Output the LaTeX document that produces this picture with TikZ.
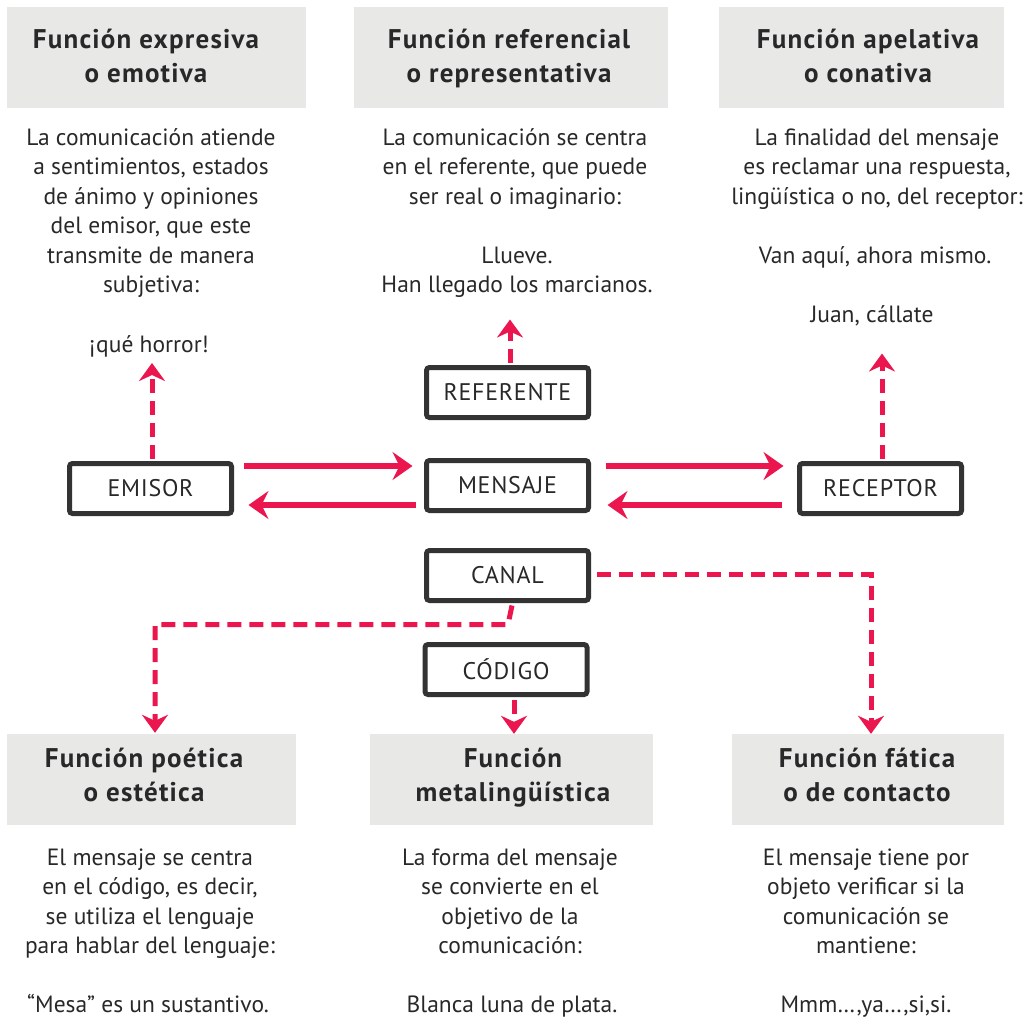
\documentclass[tikz,border=0pt]{standalone}
\usepackage{fontspec}
\setmainfont{PT Sans}
\newfontfamily\headfont[LetterSpace=4.5]{PT Sans}
\newfontfamily\labelfont[LetterSpace=3]{PT Sans}
\usetikzlibrary{arrows.meta,calc}
\definecolor{accent}{RGB}{236,22,79}
\definecolor{panel}{RGB}{232,232,231}
\definecolor{ink}{RGB}{40,40,40}
\definecolor{frame}{RGB}{51,51,51}

\begin{document}
\begin{tikzpicture}[x=1pt,y=-1pt,
  panelbox/.style={fill=panel, draw=none, inner sep=0pt},
  heading/.style={font=\headfont\bfseries\fontsize{27}{34}\selectfont, text=ink, align=center, anchor=base, inner sep=0pt},
  body/.style={font=\fontsize{23.5}{29.5}\selectfont, text=ink, align=center, anchor=base, inner sep=0pt},
  element/.style={draw=frame, line width=5pt, rounded corners=3pt, fill=white, minimum width=162pt, minimum height=50pt, inner sep=0pt, font=\labelfont\fontsize{24}{28}\selectfont, text=ink},
  flow/.style={draw=accent, line width=5.5pt, -{Stealth[length=20pt,width=28pt,inset=7pt]}},
  link/.style={draw=accent, line width=5pt, dash pattern=on 14pt off 8pt, -{Stealth[length=18pt,width=26pt,inset=6pt]}},
]
\useasboundingbox (0,0) rectangle (1024,1021);

% heading panels
\node[panelbox, minimum width=299pt, minimum height=101pt] (pExp) at (156.5,57.5) {};
\node[panelbox, minimum width=314pt, minimum height=101pt] (pRef) at (511,57.5) {};
\node[panelbox, minimum width=285pt, minimum height=101pt] (pApe) at (861.5,57.5) {};
\node[panelbox, minimum width=289pt, minimum height=91pt] (pPoe) at (151.5,779.5) {};
\node[panelbox, minimum width=283pt, minimum height=91pt] (pMeta) at (511.5,779.5) {};
\node[panelbox, minimum width=272pt, minimum height=91pt] (pFat) at (868,779.5) {};

% headings (anchored on the baseline of their last line)
\node[heading] (hExp) at (146,82) {Función expresiva\\o emotiva};
\node[heading] (hRef) at (509,82) {Función referencial\\o representativa};
\node[heading] (hApe) at (868,82) {Función apelativa\\o conativa};
\node[heading] (hPoe) at (144,801) {Función poética\\o estética};
\node[heading] (hMeta) at (513,801) {Función\\metalingüística};
\node[heading] (hFat) at (867,801) {Función fática\\o de contacto};

% descriptions and examples (anchored on the baseline of their last line)
\node[body] (dExp) at (151,292.5) {La comunicación atiende\\a sentimientos, estados\\de ánimo y opiniones\\del emisor, que este\\transmite de manera\\subjetiva:};
\node[body] (xExp) at (149,352) {¡qué horror!};
\node[body] (dRef) at (515,204) {La comunicación se centra\\en el referente, que puede\\ser real o imaginario:};
\node[body] (xRef) at (517,292.5) {Llueve.\\Han llegado los marcianos.};
\node[body] (dApe) at (877,204) {La finalidad del mensaje\\es reclamar una respuesta,\\lingüística o no, del receptor:};
\node[body] (xApe1) at (875,263) {Van aquí, ahora mismo.};
\node[body] (xApe2) at (872,322) {Juan, cállate};
\node[body] (dPoe) at (150,953.5) {El mensaje se centra\\en el código, es decir,\\se utiliza el lenguaje\\para hablar del lenguaje:};
\node[body] (xPoe) at (148,1012.5) {“Mesa” es un sustantivo.};
\node[body] (dMeta) at (510,953.5) {La forma del mensaje\\se convierte en el\\objetivo de la\\comunicación:};
\node[body] (xMeta) at (512,1012.5) {Blanca luna de plata.};
\node[body] (dFat) at (866,953.5) {El mensaje tiene por\\objeto verificar si la\\comunicación se\\mantiene:};
\node[body] (xFat) at (866,1012.5) {Mmm…,ya…,si,si.};

% elements of communication
\node[element] (emisor) at (150.5,488.5) {EMISOR};
\node[element] (mensaje) at (507.5,485.5) {MENSAJE};
\node[element] (referente) at (507.5,392.5) {REFERENTE};
\node[element] (receptor) at (880.5,488.5) {RECEPTOR};
\node[element] (canal) at (507.5,575.5) {CANAL};
\node[element] (codigo) at (506,669.5) {CÓDIGO};

% message flow
\draw[flow] ($(emisor.east)+(10,-22.5)$) -- ($(mensaje.west)+(-11.5,-19.5)$);
\draw[flow] ($(mensaje.west)+(-8,19.5)$) -- ($(emisor.east)+(14.5,16.5)$);
\draw[flow] ($(mensaje.east)+(14.5,-19.5)$) -- ($(receptor.west)+(-13.5,-22.5)$);
\draw[flow] ($(receptor.west)+(-15.5,16.5)$) -- ($(mensaje.east)+(16.5,19.5)$);

% links to the functions
\draw[link] ($(emisor.north)+(1.5,-2.5)$) -- ($(emisor.north)+(1.5,-98)$);
\draw[link] ($(referente.north)+(2.5,-2.5)$) -- ($(referente.north)+(2.5,-45.5)$);
\draw[link] ($(receptor.north)+(1.5,-2.5)$) -- ($(receptor.north)+(1.5,-107.5)$);
\coordinate (canalA) at ($(canal.south)+(4.5,2.5)$);
\coordinate (canalB) at ($(canal.south)+(0.5,21.5)$);
\draw[link] (canalA) -- (canalB) -| ($(pPoe.north)+(3.5,-1)$);
\draw[link] ($(canal.east)+(6,-1.5)$) -| ($(pFat.north)+(3,0)$);
\coordinate (codigoA) at ($(codigo.south)+(8,2.5)$);
\draw[link] (codigoA) -- (codigoA |- pMeta.north);
\end{tikzpicture}
\end{document}
